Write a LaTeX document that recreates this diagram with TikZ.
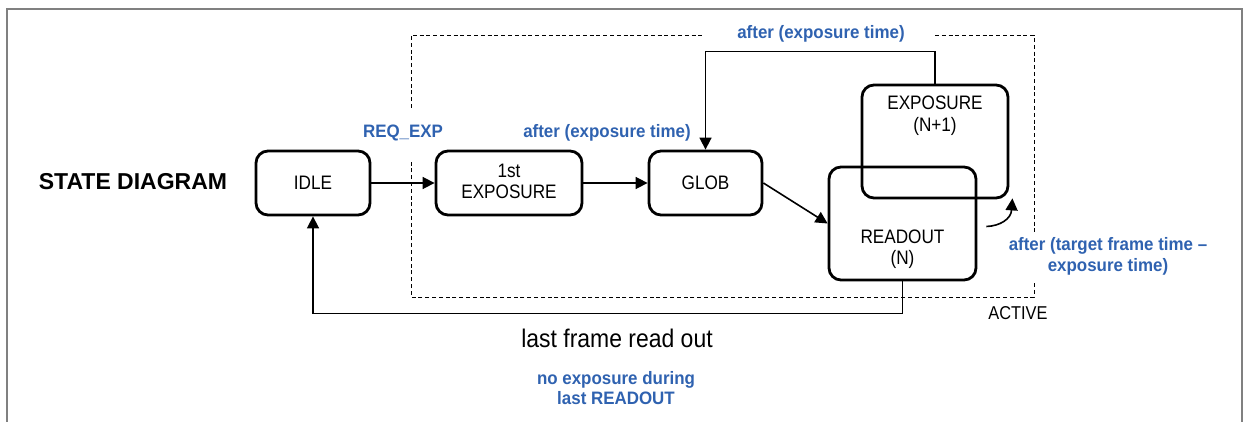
\documentclass[tikz,border=0pt]{standalone}
\usepackage{fontspec}
\setmainfont{Liberation Sans}
\newfontfamily\boxfont[FakeStretch=0.88]{Liberation Sans}
\newfontfamily\lblfont[FakeStretch=0.94]{Liberation Sans}
\newfontfamily\notefont[FakeStretch=0.9]{Liberation Sans}
\usetikzlibrary{arrows.meta}
\definecolor{lblblue}{HTML}{2F62B0}
\definecolor{framegray}{HTML}{808080}
\tikzset{
  statebox/.style={draw, line width=2.8pt, rounded corners=12pt, inner sep=0pt},
  boxtext/.style={align=center, font=\boxfont\fontsize{19.5}{21.5}\selectfont, inner sep=0pt},
  bluelbl/.style={align=center, text=lblblue, font=\lblfont\bfseries\fontsize{18}{21}\selectfont, inner sep=0pt},
  conn/.style={line width=1.6pt, -{Triangle[length=12pt,width=12pt]}},
  activeline/.style={line width=0.9pt, dash pattern=on 4pt off 2.8pt},
}
\begin{document}
\begin{tikzpicture}[x=1pt,y=-1pt]
\useasboundingbox (0,0) rectangle (1248,422);
% outer frame, open at the bottom
\draw[framegray, line width=2.4pt] (7,440) -- (7,9) -- (1242,9) -- (1242,440);

% title
\node[font=\bfseries\fontsize{23}{27}\selectfont, inner sep=0pt] (title) at (133,182) {STATE DIAGRAM};

% states
\node[statebox, minimum width=114pt, minimum height=64pt] (idle) at (313,183) {};
\node[boxtext] at (idle.center) {IDLE};
\node[statebox, minimum width=146pt, minimum height=64pt] (first) at (509,183) {};
\node[boxtext] at (509,181.5) {1st\\EXPOSURE};
\node[statebox, minimum width=113pt, minimum height=64pt] (glob) at (705.5,183) {};
\node[boxtext] at (glob.center) {GLOB};
\node[statebox, minimum width=147pt, minimum height=113pt] (ro) at (902.5,223.5) {};
\node[boxtext] at (902.5,249) {READOUT\\(N)};
\node[statebox, minimum width=146pt, minimum height=113pt] (ex) at (935,141.5) {};
\node[boxtext] at (935,115.5) {EXPOSURE\\(N+1)};

% ACTIVE region
\draw[activeline] (411,108) -- (411,35) -- (705,35);
\draw[activeline] (935,35) -- (1034,35) -- (1034,232);
\draw[activeline] (1034,283) -- (1034,297) -- (411,297) -- (411,159);
\node[boxtext, font=\boxfont\fontsize{18.6}{21}\selectfont] (active) at (1018,313) {ACTIVE};

% transitions
\draw[conn] (idle.east) -- (first.west);
\draw[conn] (first.east) -- (glob.west);
\draw[conn] (glob.east) -- (ro.west);
\draw[conn] (ex.north) -- ++(0,-32) -| (glob.north);
\draw[conn] (ro.south) -- ++(0,32) -| (idle.south);
\coordinate (loopstart) at ([shift={(9,3)}]ro.east);
\coordinate (loopend) at ([shift={(3,-1)}]ex.south east);
\draw[conn] (loopstart) .. controls (1000,226) and (1011,219) .. (loopend);

% transition labels
\node[bluelbl] (req) at (403,133) {REQ\_EXP};
\node[bluelbl] (aft1) at (607,133) {after (exposure time)};
\node[bluelbl] (aft2) at (821,34) {after (exposure time)};
\node[bluelbl] (aft3) at (1108,256.5) {after (target frame time –\\exposure time)};
\node[font=\notefont\fontsize{25.5}{28}\selectfont, inner sep=0pt] (last) at (617,338) {last frame read out};
\node[bluelbl, font=\lblfont\bfseries\fontsize{18}{20}\selectfont] (noexp) at (616,388) {no exposure during\\last READOUT};
\end{tikzpicture}
\end{document}
